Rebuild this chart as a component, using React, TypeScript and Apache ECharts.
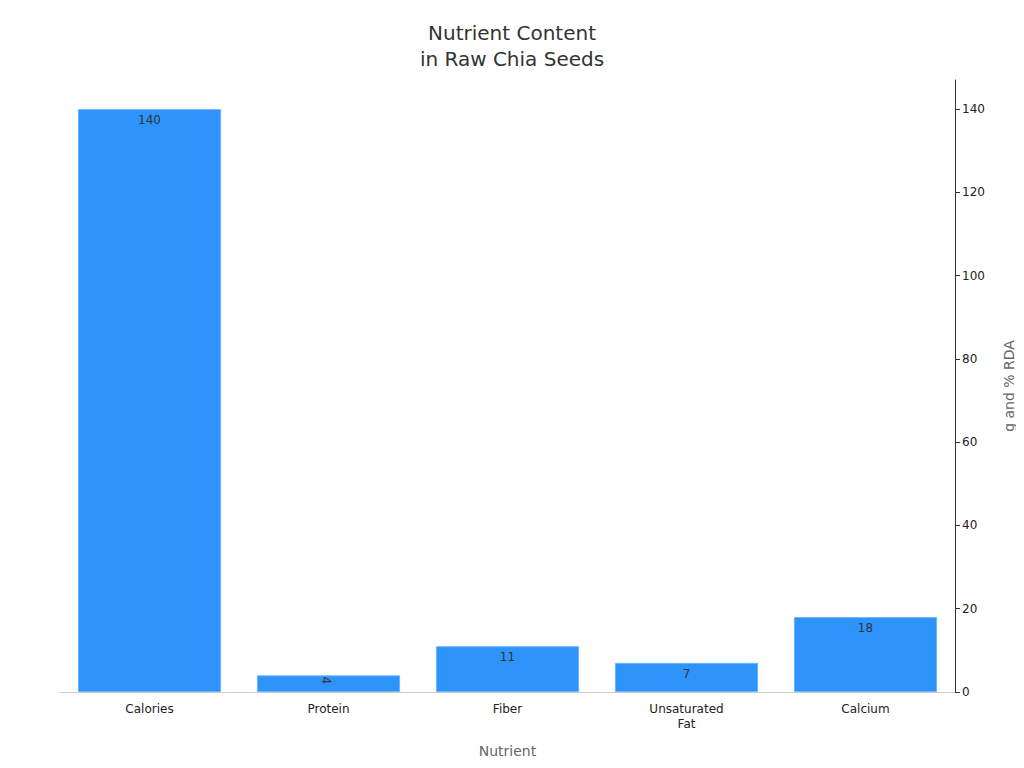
import { useEffect, useRef } from 'react'
import * as echarts from 'echarts'

const categories = ['Calories', 'Protein', 'Fiber', 'Unsaturated\nFat', 'Calcium']
const values = [140, 4, 11, 7, 18]

const FONT = 'DejaVu Sans'
const BAR = '#2e93fa'

export default function App() {
  const elRef = useRef<HTMLDivElement>(null)

  useEffect(() => {
    if (!elRef.current) return
    const chart = echarts.init(elRef.current, null, { renderer: 'svg' })
    chart.setOption({
      animation: false,
      backgroundColor: '#ffffff',
      textStyle: { fontFamily: FONT },
      title: {
        text: 'Nutrient Content\nin Raw Chia Seeds',
        left: 'center',
        top: 15,
        textStyle: { fontFamily: FONT, fontSize: 20, fontWeight: 'normal', color: '#333', lineHeight: 26 },
      },
      grid: { left: 60, right: 69, top: 80, bottom: 76 },
      xAxis: {
        type: 'category',
        data: categories,
        name: 'Nutrient',
        nameLocation: 'middle',
        nameGap: 52,
        nameTextStyle: { fontFamily: FONT, fontSize: 14, color: '#666' },
        axisLine: { lineStyle: { color: '#ccc' } },
        axisTick: { alignWithLabel: true, length: 5, lineStyle: { color: '#333' } },
        axisLabel: { fontFamily: FONT, fontSize: 12, color: '#222', margin: 9, lineHeight: 15 },
      },
      yAxis: {
        type: 'value',
        position: 'right',
        min: 0,
        max: 147,
        interval: 20,
        name: 'g and % RDA',
        nameLocation: 'middle',
        nameGap: 47,
        nameRotate: 90,
        nameTextStyle: { fontFamily: FONT, fontSize: 14, color: '#666' },
        axisLine: { show: true, lineStyle: { color: '#333' } },
        axisTick: { show: true, length: 5, lineStyle: { color: '#333' } },
        axisLabel: { fontFamily: FONT, fontSize: 12, color: '#222', margin: 7, showMaxLabel: false },
        splitLine: { show: false },
      },
      series: [
        {
          type: 'bar',
          barWidth: '80%',
          data: values.map((v, i) => ({
            value: v,
            label: i === 1 ? { rotate: -90, offset: [0, -3] } : undefined,
          })),
          itemStyle: { color: BAR, borderColor: '#6cb4ff', borderWidth: 1 },
          label: {
            show: true,
            position: 'insideTop',
            distance: 5,
            fontFamily: FONT,
            fontSize: 12,
            color: '#333',
          },
        },
      ],
    })
    const onResize = () => chart.resize()
    window.addEventListener('resize', onResize)
    return () => {
      window.removeEventListener('resize', onResize)
      chart.dispose()
    }
  }, [])

  return <div ref={elRef} style={{ width: 1024, height: 768, margin: -8 }} />
}
